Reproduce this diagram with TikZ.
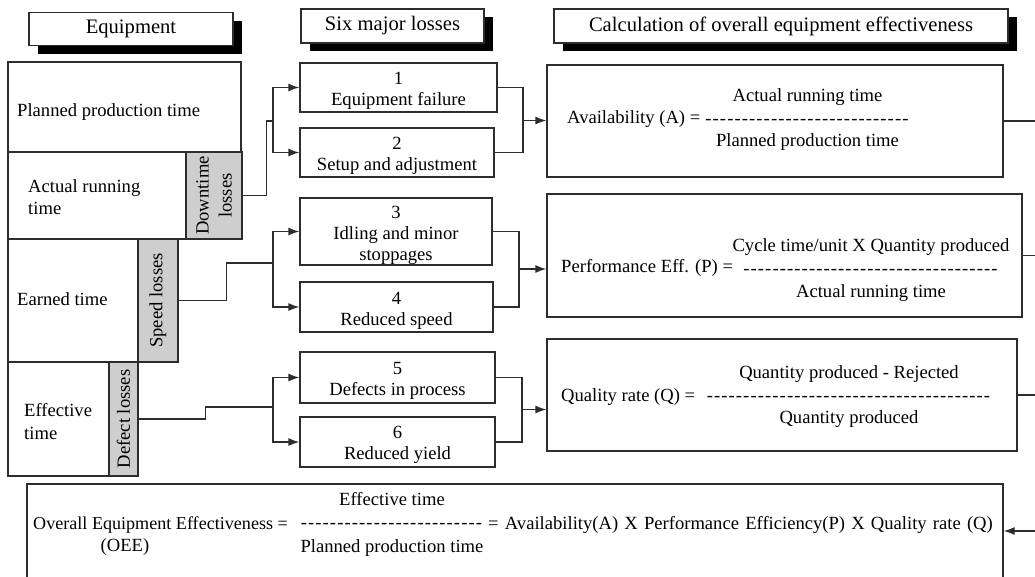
\documentclass[tikz,border=0pt]{standalone}
\usepackage{fontspec}
\setmainfont{Liberation Serif}
\usetikzlibrary{arrows.meta,shadows,calc}
\definecolor{lossgrey}{RGB}{206,206,206}
\definecolor{edge}{RGB}{45,45,45}
\newcommand\bodyfont{\fontsize{18.6}{21}\selectfont}
\newcommand\hdrfont{\fontsize{20.6}{24}\selectfont}
\newcommand\hy[1]{\foreach \i in {1,...,#1}{-\kern1.1pt}}
\tikzset{
  box/.style={draw=edge, line width=1.3pt, fill=white, inner sep=0pt, font=\bodyfont, align=center},
  greybox/.style={box, fill=lossgrey},
  hdr/.style={box, font=\hdrfont, drop shadow={shadow xshift=9pt, shadow yshift=-8pt, fill=black, opacity=1}},
  txt/.style={inner sep=0pt, font=\bodyfont, align=center},
  conn/.style={draw=edge, line width=1.3pt},
  arr/.style={conn, -{Latex[length=11pt,width=8pt]}}
}
\begin{document}
\begin{tikzpicture}[x=1pt, y=-1pt]
\useasboundingbox (0,0) rectangle (1035,576);
\clip (0,0) rectangle (1035,576);
\fill[white] (0,0) rectangle (1035,576);

% headers
\node[hdr, minimum width=204pt, minimum height=33pt] (hE) at (131,29) {Equipment};
\node[hdr, minimum width=183pt, minimum height=34pt] (hS) at (392.5,26) {Six major losses};
\node[hdr, minimum width=454pt, minimum height=34pt] (hC) at (781,26) {Calculation of overall equipment effectiveness};

% equipment stack
\node[box, minimum width=233pt, minimum height=90pt] (ppt) at (124.5,107) {};
\node[txt, anchor=west] (pptt) at (17,112) {Planned production time};
\node[box, minimum width=178pt, minimum height=87pt] (art) at (97,195.5) {};
\node[txt, anchor=west, align=left, font=\fontsize{18.6}{22}\selectfont] (artt) at (28,197) {Actual running\\time};
\node[greybox, minimum width=56pt, minimum height=87pt] (dtl) at (214,195.5) {};
\node[txt, rotate=90, font=\fontsize{18.6}{23}\selectfont] (dtlt) at (dtl.center) {Downtime\\losses};
\node[box, minimum width=130pt, minimum height=123pt] (ern) at (73,300.5) {};
\node[txt, anchor=west] (ernt) at (17,299) {Earned time};
\node[greybox, minimum width=40pt, minimum height=123pt] (spd) at (158,300.5) {};
\node[txt, rotate=90] (spdt) at (spd.center) {Speed losses};
\node[box, minimum width=101pt, minimum height=114pt] (eff) at (58.5,419) {};
\node[txt, anchor=west, align=left, font=\fontsize{18.6}{23}\selectfont] (efft) at (24,422) {Effective\\time};
\node[greybox, minimum width=29pt, minimum height=114pt] (dfl) at (123.5,419) {};
\node[txt, rotate=90] (dflt) at (dfl.center) {Defect losses};

% six losses
\node[box, minimum width=197pt, minimum height=49pt] (f1) at (398.5,87.5) {};
\node[txt] (f1t) at ($(f1.center)+(0,3)$) {1\\Equipment failure};
\node[box, minimum width=194pt, minimum height=49pt] (f2) at (397,152.5) {};
\node[txt] (f2t) at ($(f2.center)+(0,3)$) {2\\Setup and adjustment};
\node[box, minimum width=192pt, minimum height=67pt] (f3) at (396,231.5) {};
\node[txt] (f3t) at ($(f3.center)+(0,3.5)$) {3\\Idling and minor\\stoppages};
\node[box, minimum width=193pt, minimum height=50pt] (f4) at (396.5,307) {};
\node[txt] (f4t) at ($(f4.center)+(0,3.5)$) {4\\Reduced speed};
\node[box, minimum width=195pt, minimum height=51pt] (f5) at (397.5,377.5) {};
\node[txt] (f5t) at ($(f5.center)+(0,3)$) {5\\Defects in process};
\node[box, minimum width=195pt, minimum height=50pt] (f6) at (397.5,442) {};
\node[txt] (f6t) at ($(f6.center)+(0,3)$) {6\\Reduced yield};

% formula boxes
\node[box, minimum width=456pt, minimum height=112pt] (A) at (775,121) {};
\node[txt, anchor=west] (Alab) at (567,119) {Availability (A) =};
\node[txt, font=\fontsize{18.6}{22.5}\selectfont] (Afrac) at (807.5,120) {Actual running time\\\hy{28}\\Planned production time};

\node[box, minimum width=475pt, minimum height=123pt] (P) at (784.5,255.5) {};
\node[txt, anchor=west] (Plab) at (561,268) {Performance Eff. (P) =};
\node[txt, font=\fontsize{18.6}{23}\selectfont] (Pfrac) at (871,270) {Cycle time/unit X Quantity produced\\\hy{35}\\Actual running time};

\node[box, minimum width=470pt, minimum height=112pt] (Q) at (782,395) {};
\node[txt, anchor=west] (Qlab) at (561,397) {Quality rate (Q) =};
\node[txt, font=\fontsize{18.6}{22.5}\selectfont] (Qfrac) at (849,397) {Quantity produced - Rejected\\\hy{39}\\Quantity produced};

% OEE box
\node[box, minimum width=976pt, minimum height=126pt] (O) at (515,547) {};
\node[txt, anchor=west, font=\fontsize{18.1}{21}\selectfont] (Olab) at (33,525) {Overall Equipment Effectiveness =};
\node[txt] (Oee) at (125,547) {(OEE)};
\node[txt, font=\fontsize{18.6}{23.5}\selectfont] (Ofrac) at (392,524) {Effective time\\\hy{25}\\Planned production time};
\node[txt, anchor=west] (Orest) at (488,525) {\spaceskip=6.2pt\relax = Availability(A) X Performance Efficiency(P) X Quality rate (Q)};

% left connectors
\coordinate (j1) at (273,121);
\coordinate (j2) at (273,263);
\coordinate (j3) at (273,407);
\draw[conn] (dtl.east) -- ++(24,0) |- (j1);
\draw[arr] (j1) |- (f1.west);
\draw[arr] (j1) |- (f2.west);
\draw[conn] (spd.east) -- ++(48,0) |- (j2);
\draw[arr] (j2) |- (f3.west);
\draw[arr] (j2) |- (f4.west);
\draw[conn] (dfl.east) -- ++(67,0) |- (j3);
\draw[arr] (j3) |- (f5.west);
\draw[arr] (j3) |- (f6.west);

% right connectors
\coordinate (k1) at (523,120.5);
\coordinate (k2) at (519,269);
\coordinate (k3) at (522,409.5);
\draw[conn] (f1.east) -| (k1);
\draw[conn] (f2.east) -| (k1);
\draw[arr] (k1) -- (A.west |- k1);
\draw[conn] (f3.east) -| (k2);
\draw[conn] (f4.east) -| (k2);
\draw[arr] (k2) -- (P.west |- k2);
\draw[conn] (f5.east) -| (k3);
\draw[conn] (f6.east) -| (k3);
\draw[arr] (k3) -- (Q.west |- k3);

% outgoing lines to the right edge
\coordinate (eA) at (1035,121);
\coordinate (eP) at (1035,255.5);
\coordinate (eQ) at (1035,395);
\coordinate (eO) at (1035,531);
\draw[conn] (A.east) -- (eA);
\draw[conn] (P.east) -- (eP);
\draw[conn] (Q.east) -- (eQ);
\draw[arr] (eO) -- (O.east |- eO);
\end{tikzpicture}
\end{document}
